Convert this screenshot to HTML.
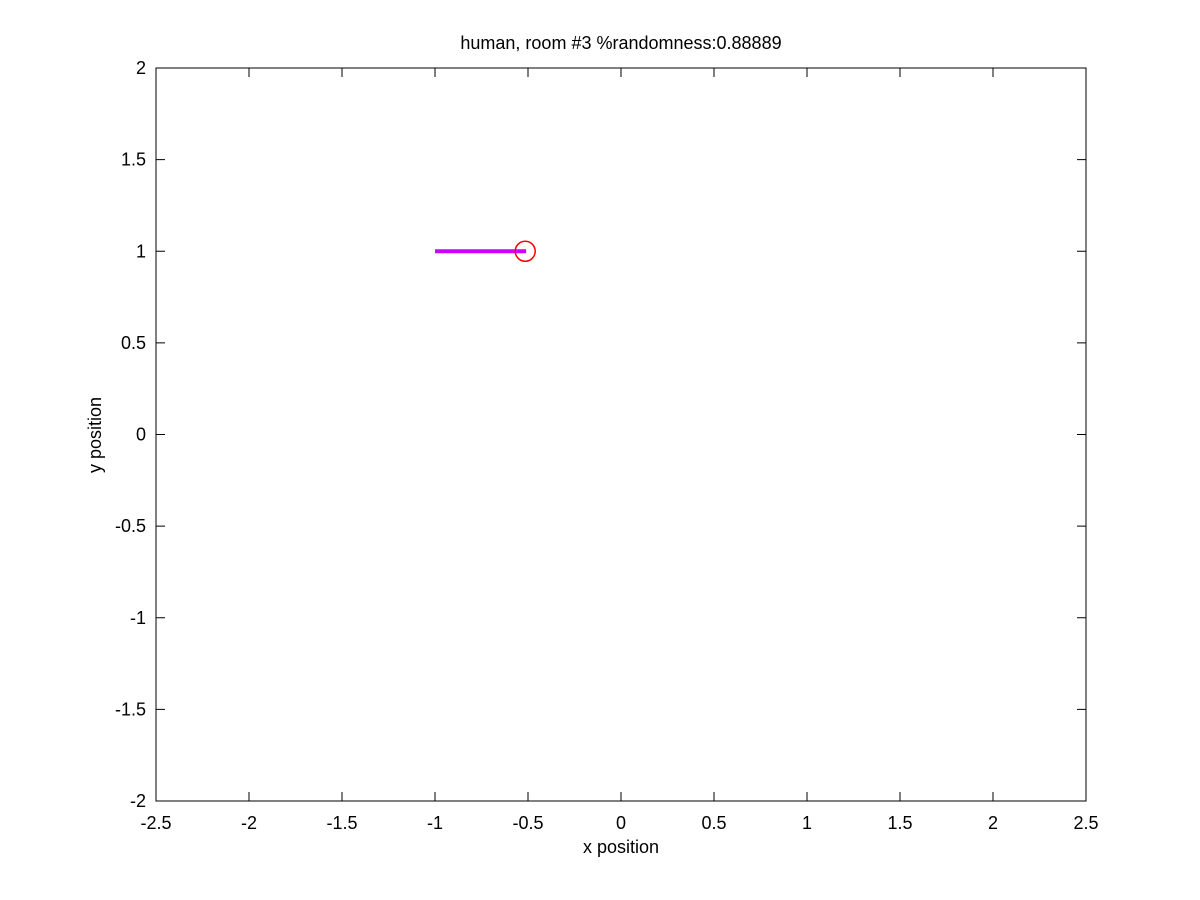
<!DOCTYPE html>
<html><head><meta charset="utf-8"><style>
body{margin:0;background:#fff;}
svg{display:block;font-family:"Liberation Sans",sans-serif;}
</style></head><body>
<svg id="chart" width="1200" height="900"></svg>
<script>
const xTicks=[-2.5,-2,-1.5,-1,-0.5,0,0.5,1,1.5,2,2.5];
const yTicks=[-2,-1.5,-1,-0.5,0,0.5,1,1.5,2];
const pathX=[-1,-0.51];
const pathY=[1,1];
const endX=[-0.515];
const endY=[1];
const L=156,R=1086,T=68,B=801;
const sx=v=>L+(v+2.5)/5*(R-L);
const sy=v=>B-(v+2)/4*(B-T);
const svg=document.getElementById('chart');
const NS='http://www.w3.org/2000/svg';
function mk(t,a,txt){const e=document.createElementNS(NS,t);for(const k in a)e.setAttribute(k,a[k]);if(txt!==undefined)e.textContent=txt;svg.appendChild(e);return e;}
let e;
e=mk('rect',{x:L,y:T,width:R-L,height:B-T,fill:'#fff',stroke:'#000','stroke-width':1});


xTicks.forEach(v=>{const x=sx(v);
 mk('line',{x1:x,y1:B,x2:x,y2:B-9,stroke:'#000'});
 mk('line',{x1:x,y1:T,x2:x,y2:T+9,stroke:'#000'});
 e=mk('text',{x:x,y:B+28,'text-anchor':'middle','font-size':18},String(v));
 
 
});
yTicks.forEach(v=>{const y=sy(v);
 mk('line',{x1:L,y1:y,x2:L+9,y2:y,stroke:'#000'});
 mk('line',{x1:R,y1:y,x2:R-9,y2:y,stroke:'#000'});
 e=mk('text',{x:L-10,y:y+6,'text-anchor':'end','font-size':18},String(v));
 
 
});
e=mk('text',{x:621,y:853,'text-anchor':'middle','font-size':18},'x position');


e=mk('text',{x:0,y:0,'text-anchor':'middle','font-size':18,transform:'translate(101,435) rotate(-90)'},'y position');


e=mk('text',{x:621,y:49,'text-anchor':'middle','font-size':18},'human, room #3 %randomness:0.88889');


e=mk('polyline',{points:pathX.map((x,i)=>sx(x)+','+sy(pathY[i])).join(' '),fill:'none',stroke:'#cc00ff','stroke-width':4});


endX.forEach((x,i)=>{
 e=mk('circle',{cx:sx(x),cy:sy(endY[i]),r:10,fill:'none',stroke:'#ff0000','stroke-width':1.5});
 
 
});
</script>
</body></html>
